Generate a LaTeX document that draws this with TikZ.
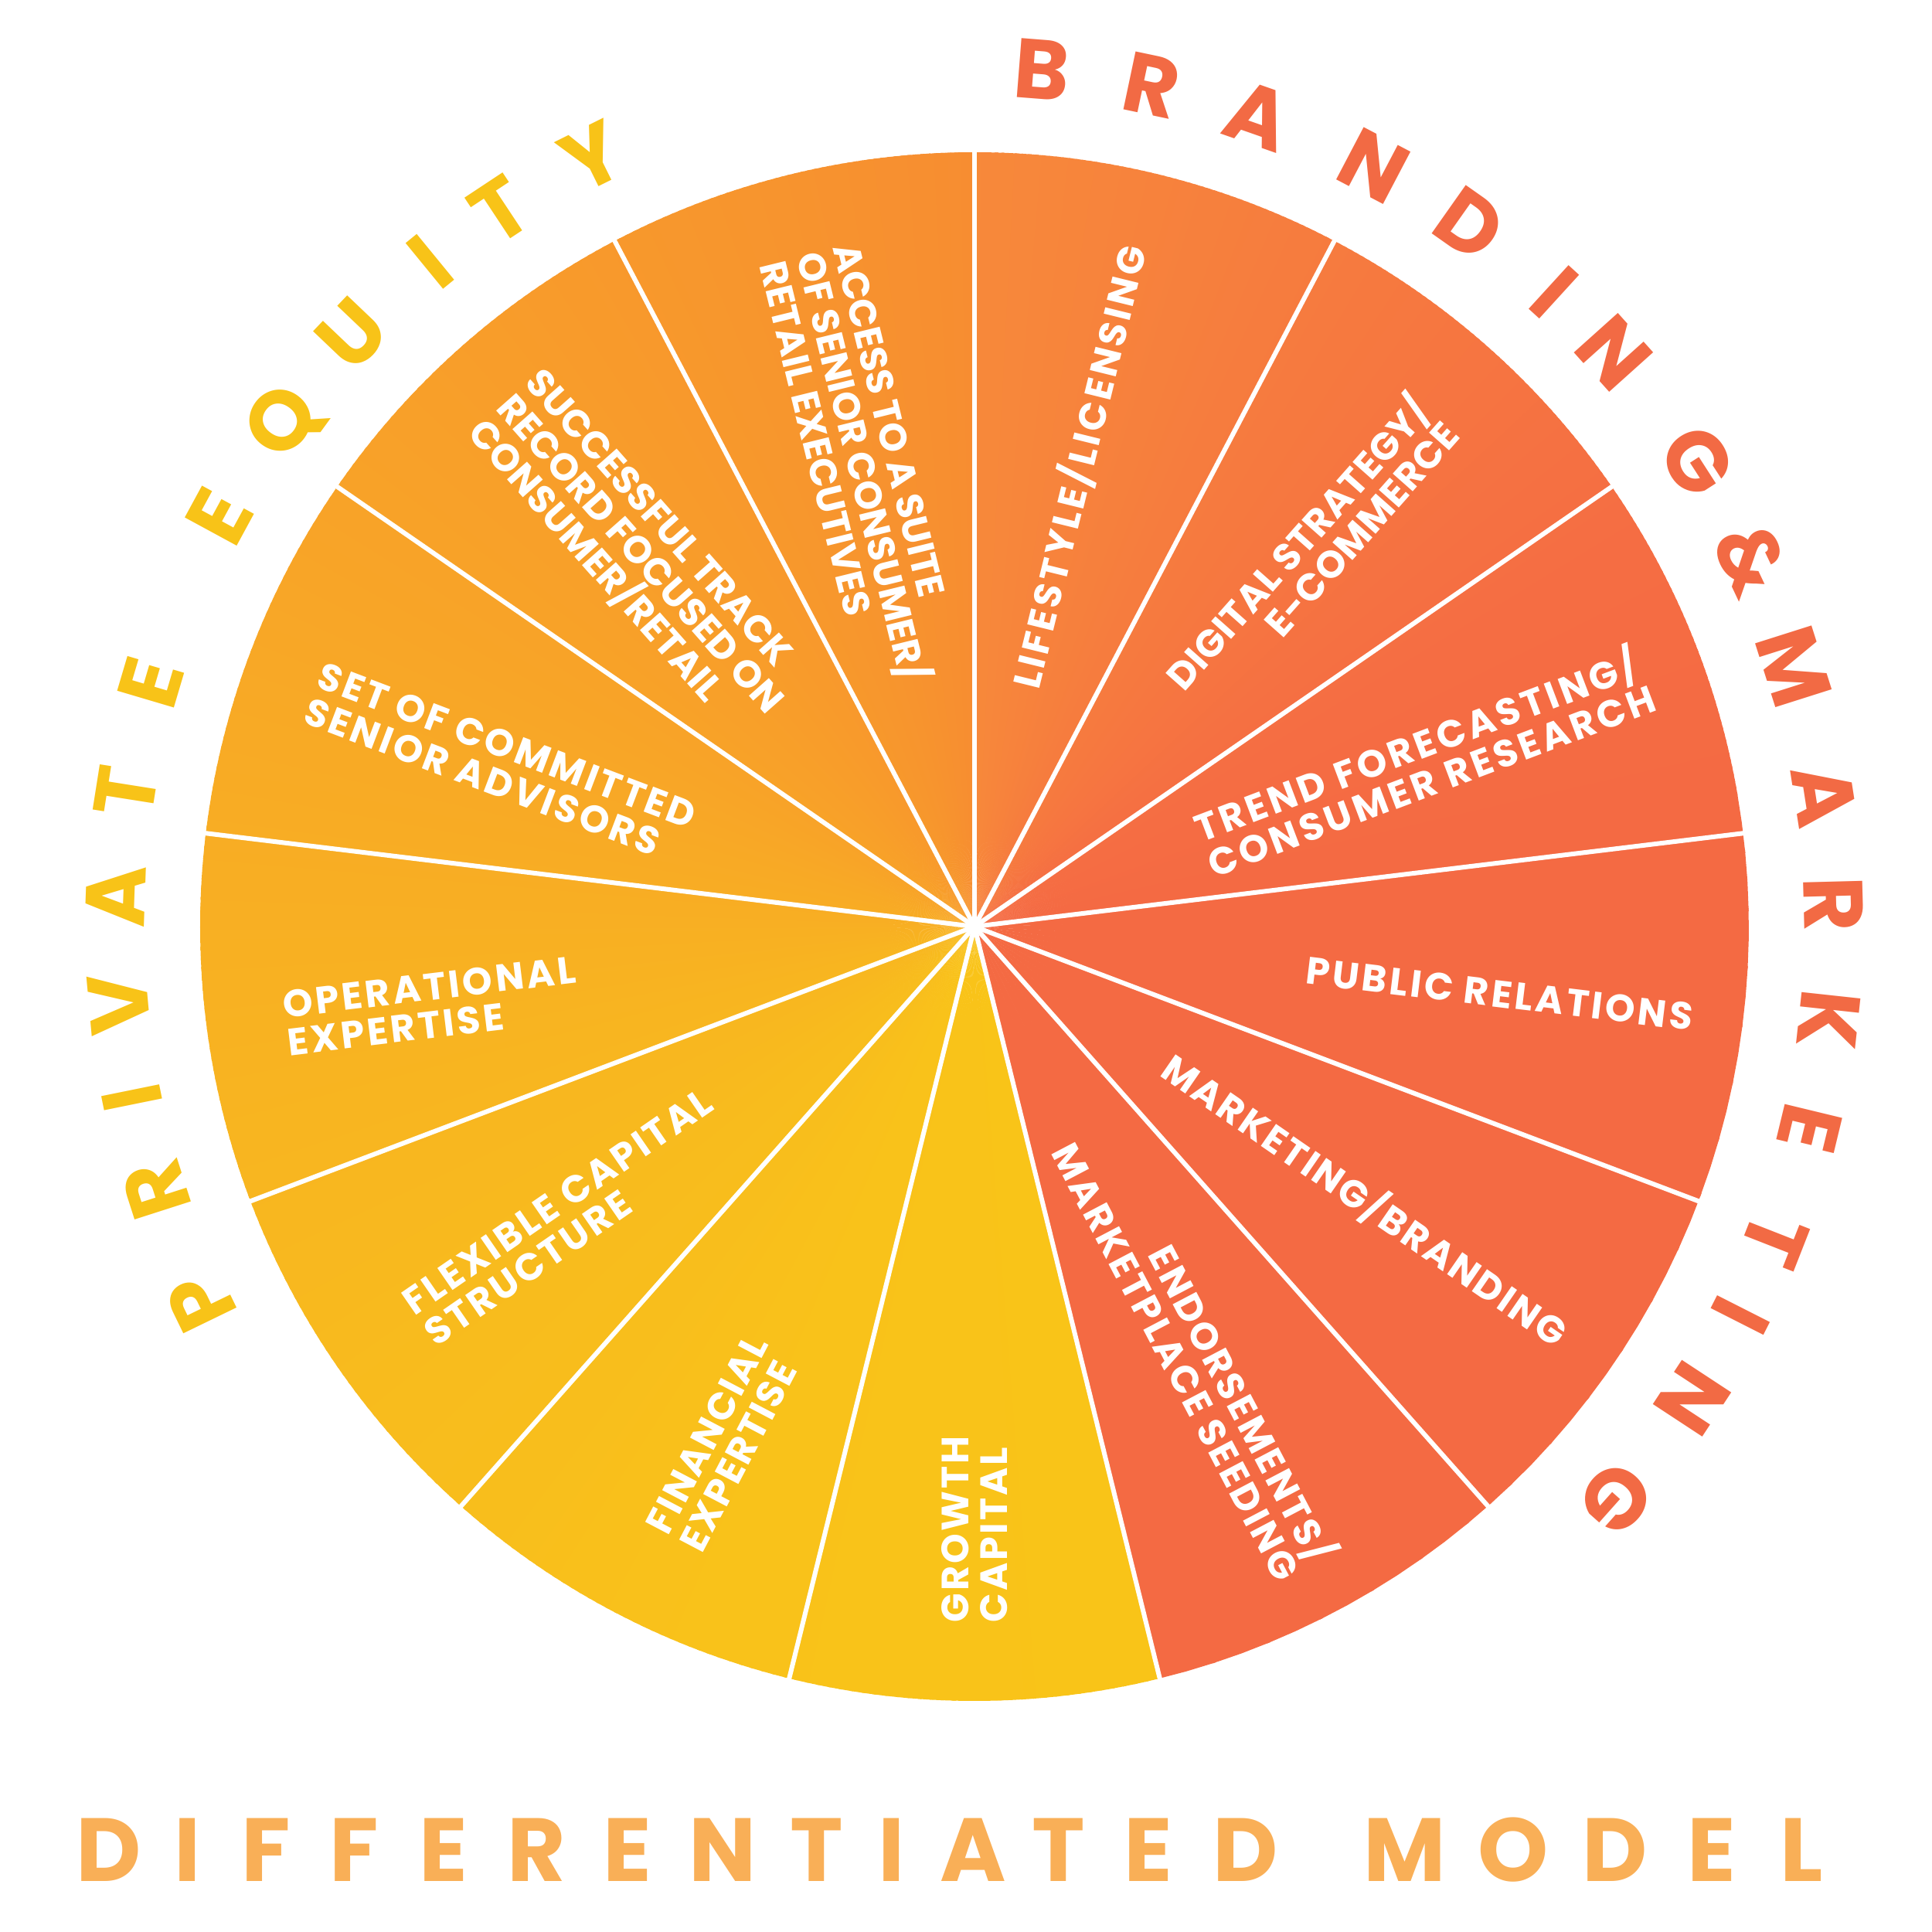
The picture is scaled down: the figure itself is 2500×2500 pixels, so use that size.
\documentclass[tikz,border=0pt]{standalone}
\usepackage{fontspec}
\setmainfont{Poppins}
\definecolor{peY}{HTML}{F8C318}
\definecolor{brR}{HTML}{F26A44}
\definecolor{dmO}{HTML}{F9AF57}
\definecolor{bA}{HTML}{F7893A}
\definecolor{bB}{HTML}{F67A3F}
\definecolor{bC}{HTML}{F56D43}
\definecolor{bD}{HTML}{F46A43}
\definecolor{pA}{HTML}{F9C418}
\definecolor{pB}{HTML}{F9C21A}
\definecolor{pC}{HTML}{F8BC1D}
\definecolor{pD}{HTML}{F8B321}
\definecolor{pE}{HTML}{F8A826}
\definecolor{pF}{HTML}{F89D2A}
\definecolor{pG}{HTML}{F7942E}
\definecolor{pH}{HTML}{F78D31}
\newcommand\gseg[5]{%
  \foreach \i in {1,...,#5}{%
    \pgfmathsetmacro\slA{#1+(\i-1)*(#2-#1)/#5}%
    \pgfmathsetmacro\slB{#1+\i*(#2-#1)/#5+0.25}%
    \pgfmathtruncatemacro\slP{round(100*(\i-0.5)/#5)}%
    \colorlet{slc}{#4!\slP!#3}%
    \fill[slc] (0,0) -- ({90-\slA}:1002) -- ({90-(\slA+\slB)/2}:1002) -- ({90-\slB}:1002) -- cycle;
  }}
\tikzset{
  spoke/.style={draw=white, line width=0.06cm},
  lab/.style={text=white, font=\fontsize{14}{14}\selectfont\bfseries\addfontfeatures{LetterSpace=#1}, inner sep=0pt, align=left},
  lab/.default=0,
  arcPE/.style={text=peY, font=\fontsize{31}{31}\selectfont\bfseries, inner sep=0pt, text height=21.7pt, text depth=0pt},
  arcBR/.style={text=brR, font=\fontsize{31}{31}\selectfont\bfseries, inner sep=0pt, text height=21.7pt, text depth=0pt},
  dm/.style={text=dmO, font=\fontsize{33}{33}\selectfont\bfseries, inner sep=0pt, text height=23.1pt, text depth=0pt}
}
\begin{document}
\begin{tikzpicture}[x=0.01cm,y=0.01cm]
\useasboundingbox (-1261,-1301) rectangle (1239,1199);
\coordinate (O) at (0,0);
% gradient disc: branding side
\gseg{0}{30}{bA}{bB}{60}
\gseg{30}{60}{bB}{bC}{60}
\gseg{60}{80}{bC}{bD}{40}
\gseg{80}{166.1538}{bD}{bD}{20}
% private equity side
\gseg{166.1538}{200}{pA}{pB}{40}
\gseg{200}{230}{pB}{pC}{40}
\gseg{230}{260}{pC}{pD}{40}
\gseg{260}{290}{pD}{pE}{40}
\gseg{290}{320}{pE}{pF}{40}
\gseg{320}{345}{pF}{pG}{40}
\gseg{345}{360}{pG}{pH}{30}
% spokes
\foreach \k in {0,...,12}{
  \pgfmathsetmacro\th{90-\k*360/13}
  \coordinate (s\k) at (\th:1012);
  \draw[spoke] (O) -- (s\k);
}
% wedge labels
\node[lab=8.2, rotate=76.15] (l1) at (77.2:610) {LIFESTYLE/LICENSING};
\node[lab=1, align=right, rotate=48.46] (l2) at (48.1:649) {DIGITAL STRATEGY/\\E-COMMERCE};
\node[lab=8.8, rotate=20.77] (l3) at (20.4:620) {TREND FORECASTING/\\CONSUMER RESEARCH};
\node[lab=7.5, rotate=-6.92] (l4) at (-7.3:685) {PUBLIC RELATIONS};
\node[lab=5.4, rotate=-34.6] (l5) at (-35.0:617) {MARKETING/BRANDING};
\node[lab=6.3, align=right, rotate=-62.3] (l6) at (-62.4:620) {ENDORSEMENTS/\\MARKETPLACE SEEDING};
\node[lab=6.5, rotate=90] (l7) at (-90:780) {GROWTH\\CAPITAL};
\node[lab=4.3, rotate=62.3] (l8) at (-115.9:743) {FINANCIAL\\EXPERTISE};
\node[lab=6.6, rotate=34.6] (l9) at (-144.4:646) {FLEXIBLE CAPITAL\\STRUCTURE};
\node[lab=7.6, rotate=6.9] (l10) at (188.3:710) {OPERATIONAL\\EXPERTISE};
\node[lab=6.9, rotate=-20.8] (l11) at (161.0:649) {SET OF COMMITTED\\SENIOR ADVISORS};
\node[lab, rotate=-48.5] (l12) at (132.2:648) {SUCCESSFUL TRACK\\RECORD FOCUSED ON\\CONSUMER/RETAIL};
\node[lab, rotate=-76.2] (l13) at (103.8:612) {ACCESS TO A SUITE\\OF SENIOR CONSUMER/\\RETAIL EXECUTIVES};
% outer arc texts
\foreach \a/\c [count=\n] in {205.9/P,197.8/R,191.5/I,185.2/V,178.0/A,171.0/T,163.5/E,151.5/E,143.9/Q,136.4/U,129.3/I,123.5/T,116.4/Y}{
  \node[arcPE, rotate=\a-90] (pe\n) at (\a:1112) {\c};
}
\foreach \a/\c [count=\n] in {85.5/B,78.1/R,70.7/A,62.3/N,54.8/D,47.6/I,41.9/N,32.8/G,25.3/\&,17.6/M,8.8/A,1.5/R,-6.2/K,-13.6/E,-21.4/T,-26.9/I,-33.3/N,-41.7/G}{
  \node[arcBR, rotate=\a-90] (br\n) at (\a:1112) {\c};
}
% bottom title
\foreach \x/\c [count=\n] in {-1120/D,-1018/I,-917/F,-803/F,-687/E,-567/R,-449/E,-326/N,-204/T,-107/I,-2/A,109/T,225/E,351/D,557/M,697/O,829/D,954/E,1070/L}{
  \node[dm] (dm\n) at (\x,-1195) {\c};
}
\end{tikzpicture}
\end{document}
